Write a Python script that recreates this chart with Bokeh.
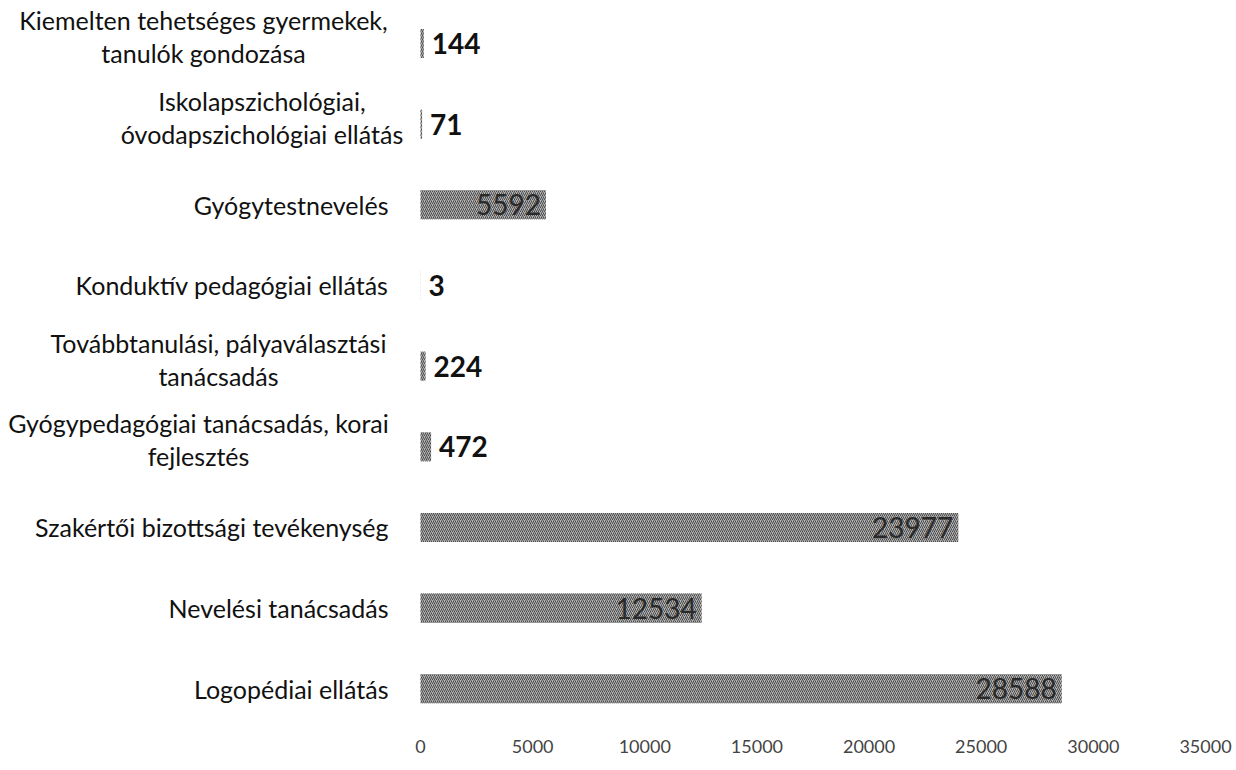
from bokeh.plotting import figure
from bokeh.models import Range1d, FixedTicker, ColumnDataSource
from bokeh.core.properties import value
from bokeh.embed import file_html
from bokeh.resources import INLINE

# bottom to top
categories = [
    "Logopédiai ellátás",
    "Nevelési tanácsadás",
    "Szakértői bizottsági tevékenység",
    "Gyógypedagógiai tanácsadás, korai\nfejlesztés",
    "Továbbtanulási, pályaválasztási\ntanácsadás",
    "Konduktív pedagógiai ellátás",
    "Gyógytestnevelés",
    "Iskolapszichológiai,\nóvodapszichológiai ellátás",
    "Kiemelten tehetséges gyermekek,\ntanulók gondozása",
]
values = [28588, 12534, 23977, 472, 224, 3, 5592, 71, 144]
x_ticks = [0, 5000, 10000, 15000, 20000, 25000, 30000, 35000]

FONT = "Lato"
W, H = 1236, 766
LEFT_PX = 420          # pixel position of x = 0
RIGHT_BORDER = 31
FRAME_W = W - RIGHT_BORDER
XMAX = 35000
px_per_unit = (FRAME_W - LEFT_PX) / XMAX
XMIN = -LEFT_PX / px_per_unit

STEP = 80.6            # px between categories
TOP_CENTER = 43        # px of top category centre
FRAME_H = 728.5
n = len(categories)
y_end = (n - 1) + TOP_CENTER / STEP
y_start = y_end - FRAME_H / STEP

# layout constants: pixel width of the widest line of each wrapped label
wrapped_width_px = {3: 380, 4: 340, 7: 253, 8: 370}
LABEL_GAP = 32
LINE_GAP = 33
WRAP_SHIFT = -7

ys = list(range(n))

p = figure(width=W, height=H, output_backend="svg", toolbar_location=None,
           x_range=Range1d(XMIN, XMAX), y_range=Range1d(y_start, y_end),
           y_axis_location=None,
           min_border_left=0, min_border_right=RIGHT_BORDER, min_border_top=0,
           min_border_bottom=int(H - FRAME_H))
p.outline_line_color = None
p.grid.visible = False

src = ColumnDataSource(dict(y=ys, v=values))
p.hbar(y="y", right="v", left=0, height=0.36, source=src,
       fill_color="#b2b2b2", line_color=None,
       hatch_pattern="right_diagonal_line", hatch_color="#4a4a4a",
       hatch_scale=4, hatch_weight=1)

big = [i for i, v in enumerate(values) if v >= 3000]
small = [i for i, v in enumerate(values) if v < 3000]
p.text(x=[values[i] for i in big], y=[ys[i] for i in big], text=[str(values[i]) for i in big],
       text_align="right", text_baseline="middle", x_offset=-5,
       text_font=value(FONT), text_font_size="28px", text_color="#2a2a2a")
p.text(x=[values[i] for i in small], y=[ys[i] for i in small], text=[str(values[i]) for i in small],
       text_align="left", text_baseline="middle", x_offset=8,
       text_font=value(FONT), text_font_size="28px", text_font_style="bold", text_color="#111111")

# category labels
single = dict(x=[], y=[], t=[])
multi = dict(x=[], y=[], t=[], xo=[], yo=[])
for i, c in enumerate(categories):
    lines = c.split("\n")
    if len(lines) == 1:
        single["x"].append(0); single["y"].append(ys[i]); single["t"].append(c)
    else:
        w = wrapped_width_px[i]
        k = len(lines)
        for j, ln in enumerate(lines):
            multi["x"].append(0); multi["y"].append(ys[i]); multi["t"].append(ln)
            multi["xo"].append(-(LABEL_GAP + w / 2))
            multi["yo"].append((j - (k - 1) / 2) * LINE_GAP + WRAP_SHIFT)
p.text(x="x", y="y", text="t", source=ColumnDataSource(single),
       text_align="right", text_baseline="middle", x_offset=-LABEL_GAP,
       text_font=value(FONT), text_font_size="25px", text_color="#111111")
p.text(x="x", y="y", text="t", x_offset="xo", y_offset="yo", source=ColumnDataSource(multi),
       text_align="center", text_baseline="middle",
       text_font=value(FONT), text_font_size="25px", text_color="#111111")

p.xaxis.ticker = FixedTicker(ticks=x_ticks)
p.xaxis.axis_line_color = None
p.xaxis.major_tick_line_color = None
p.xaxis.minor_tick_line_color = None
p.xaxis.major_label_standoff = 4
p.xaxis.major_label_text_font = FONT
p.xaxis.major_label_text_font_size = "18px"
p.xaxis.major_label_text_color = "#444444"

open("out.html", "w").write(file_html(p, INLINE))
